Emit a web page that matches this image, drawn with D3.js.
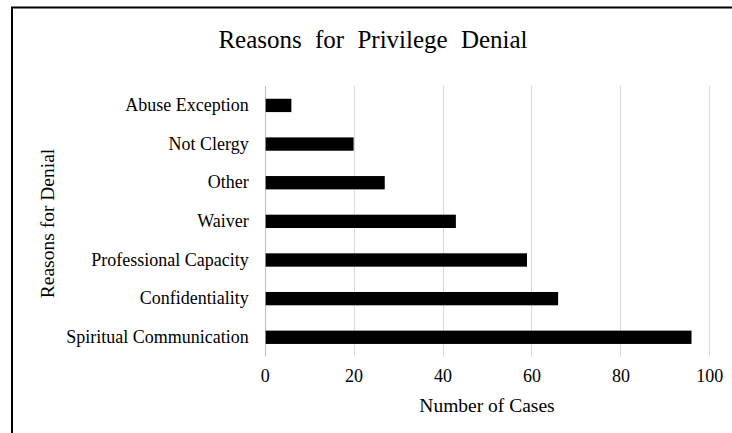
<!DOCTYPE html>
<html>
<head>
<meta charset="utf-8">
<script src="https://cdn.jsdelivr.net/npm/d3@7"></script>
<style>
  body { margin: 0; background: #fff; }
  text { font-family: "Liberation Serif", "Times New Roman", serif; fill: #000; }
</style>
</head>
<body>
<div id="canvas"></div>
<script>
"use strict";

let svgWidth = 732;
let svgHeight = 433;

// data, top to bottom as drawn
let reasons = ["Abuse Exception", "Not Clergy", "Other", "Waiver",
  "Professional Capacity", "Confidentiality", "Spiritual Communication"];
let cases = [6, 20, 27, 43, 59, 66, 96];
let xTicks = [0, 20, 40, 60, 80, 100];

let plot = { left: 264.7, right: 709.3, top: 86, bottom: 356.7 };

let svg = d3.select("#canvas")
  .append("svg")
  .attr("width", svgWidth)
  .attr("height", svgHeight);

// chart frame (right and bottom edges fall outside the picture)
svg.append("rect")
  .attr("x", 12)
  .attr("y", 7.5)
  .attr("width", 760)
  .attr("height", 460)
  .attr("fill", "none")
  .attr("stroke", "#000")
  .attr("stroke-width", 2);

let xScale = d3.scaleLinear()
  .domain([0, 100])
  .range([plot.left, plot.right]);

let yScale = d3.scaleBand()
  .domain(reasons)
  .range([plot.top, plot.bottom])
  .paddingInner(0.655)
  .paddingOuter(0.33);

// gridlines
svg.append("g")
  .selectAll("line")
  .data(xTicks)
  .enter()
  .append("line")
  .attr("x1", d => Math.round(xScale(d)) + 0.5)
  .attr("x2", d => Math.round(xScale(d)) + 0.5)
  .attr("y1", plot.top)
  .attr("y2", plot.bottom)
  .attr("stroke", d => d === 0 ? "#bfbfbf" : "#d9d9d9")
  .attr("stroke-width", 1);

// bars
svg.append("g")
  .selectAll("rect")
  .data(reasons)
  .enter()
  .append("rect")
  .attr("x", xScale(0) + 1)
  .attr("y", d => yScale(d))
  .attr("width", (d, i) => xScale(cases[i]) - xScale(0) - 1)
  .attr("height", yScale.bandwidth())
  .attr("fill", "#000");

// x tick labels
let xAxis = svg.append("g")
  .attr("transform", "translate(0," + plot.bottom + ")")
  .call(d3.axisBottom(xScale).tickValues(xTicks).tickSize(0).tickPadding(13));
xAxis.select(".domain").remove();
xAxis.selectAll("text")
  .style("font-family", "Liberation Serif, serif")
  .style("font-size", "18px")
  .attr("fill", "#000");

// y category labels
let yAxis = svg.append("g")
  .attr("transform", "translate(" + plot.left + ",0)")
  .call(d3.axisLeft(yScale).tickSize(0).tickPadding(16));
yAxis.select(".domain").remove();
yAxis.selectAll("text")
  .style("font-family", "Liberation Serif, serif")
  .style("font-size", "18px")
  .attr("fill", "#000");

// title
svg.append("text")
  .attr("x", 373)
  .attr("y", 48)
  .attr("text-anchor", "middle")
  .style("font-size", "25px")
  .style("word-spacing", "7px")
  .text("Reasons for Privilege Denial");

// axis titles
svg.append("text")
  .attr("x", (plot.left + plot.right) / 2)
  .attr("y", 411.5)
  .attr("text-anchor", "middle")
  .style("font-size", "19.5px")
  .text("Number of Cases");

svg.append("text")
  .attr("transform", "translate(54," + 223.5 + ") rotate(-90)")
  .attr("text-anchor", "middle")
  .style("font-size", "19.5px")
  .text("Reasons for Denial");
</script>
</body>
</html>
